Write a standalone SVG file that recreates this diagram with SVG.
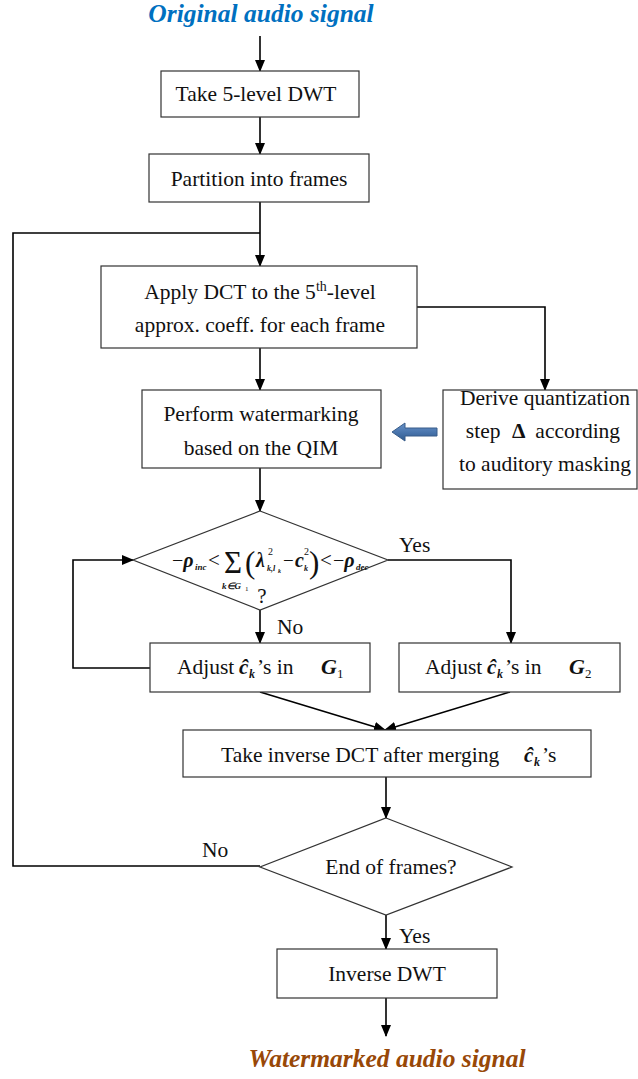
<svg xmlns="http://www.w3.org/2000/svg" width="638" height="1079" viewBox="0 0 638 1079">
<defs>
<marker id="ah" markerWidth="12" markerHeight="10" refX="11" refY="5" orient="auto" markerUnits="userSpaceOnUse">
<path d="M0,0 L12,5 L0,10 Z" fill="#000"/>
</marker>
<linearGradient id="bg" x1="0" y1="0" x2="0" y2="1">
<stop offset="0" stop-color="#6A93C8"/>
<stop offset="0.5" stop-color="#4A76AE"/>
<stop offset="1" stop-color="#2F5A8E"/>
</linearGradient>
</defs>
<style>
.box{fill:#fff;stroke:#333;stroke-width:1.2}
.t{font-family:"Liberation Serif","Times New Roman",serif;font-size:21.5px;fill:#111}
.m{font-family:"Liberation Serif","Times New Roman",serif;fill:#111}
.bi{font-weight:bold;font-style:italic}
.c{stroke:#000;stroke-width:1.6;fill:none}
.ca{stroke:#000;stroke-width:1.6;fill:none;marker-end:url(#ah)}
.ttl{font-family:"Liberation Serif","Times New Roman",serif;font-size:25.5px;font-weight:bold;font-style:italic}
</style>
<rect width="638" height="1079" fill="#fff"/>

<text class="ttl" x="261" y="22" text-anchor="middle" fill="#0070C0">Original audio signal</text>
<text class="ttl" x="387" y="1067" text-anchor="middle" fill="#984807">Watermarked audio signal</text>

<g id="connectors">
<line class="ca" x1="260" y1="36" x2="260" y2="71"/>
<line class="ca" x1="260" y1="117" x2="260" y2="154"/>
<line class="c" x1="260" y1="202" x2="260" y2="233"/>
<line class="ca" x1="260" y1="233" x2="260" y2="266"/>
<polyline class="c" points="260,866 13,866 13,233 260,233"/>
<polyline class="ca" points="417,307 545,307 545,390"/>
<line class="ca" x1="260" y1="348" x2="260" y2="390"/>
<line class="ca" x1="260" y1="468" x2="260" y2="511"/>
<polyline class="ca" points="388,560 511,560 511,643"/>
<line class="ca" x1="260" y1="610" x2="260" y2="643"/>
<polyline class="ca" points="150,668 73,668 73,560 133,560"/>
<line class="ca" x1="260" y1="692" x2="385" y2="730"/>
<line class="ca" x1="510" y1="692" x2="385" y2="730"/>
<line class="ca" x1="386" y1="777" x2="386" y2="818"/>
<line class="ca" x1="386" y1="915" x2="386" y2="949"/>
<line class="ca" x1="386" y1="998" x2="386" y2="1036"/>
<polygon points="392,432 405,423 405,428 437,428 437,436 405,436 405,441" fill="url(#bg)" stroke="#385D8A" stroke-width="1"/>
<text class="t" x="399" y="552">Yes</text>
<text class="t" x="277" y="634">No</text>
<text class="t" x="202" y="857">No</text>
<text class="t" x="399" y="943">Yes</text>
</g>

<g id="n1">
<rect class="box" x="161" y="71" width="198" height="46"/>
<text class="t" x="256" y="101" text-anchor="middle">Take 5-level DWT</text>
</g>
<g id="n2">
<rect class="box" x="149" y="154" width="220" height="48"/>
<text class="t" x="259" y="186" text-anchor="middle">Partition into frames</text>
</g>
<g id="n3">
<rect class="box" x="101" y="266" width="316" height="82"/>
<text class="t" x="260" y="299" text-anchor="middle">Apply DCT to the 5<tspan font-size="14" dy="-8">th</tspan><tspan dy="8">-level</tspan></text>
<text class="t" x="260" y="332" text-anchor="middle">approx. coeff. for each frame</text>
</g>
<g id="n4">
<rect class="box" x="142" y="390" width="239" height="78"/>
<text class="t" x="261" y="421" text-anchor="middle">Perform watermarking</text>
<text class="t" x="261" y="455" text-anchor="middle">based on the QIM</text>
</g>
<g id="n5">
<rect class="box" x="443" y="390" width="194" height="99"/>
<text class="t" x="545" y="405" text-anchor="middle">Derive quantization</text>
<text class="t" x="543" y="438" text-anchor="middle">step <tspan font-weight="bold" dx="6">Δ</tspan><tspan dx="10">according</tspan></text>
<text class="t" x="545" y="471" text-anchor="middle">to auditory masking</text>
</g>
<g id="n6">
<polygon class="box" points="260,511 388,560 260,610 133,560"/>
<text class="m" x="172" y="567" font-size="20">−<tspan class="bi">ρ</tspan></text>
<text class="m bi" x="195" y="570" font-size="9">inc</text>
<text class="m" x="208" y="567" font-size="21">&lt;</text>
<text class="m" x="224" y="573" font-size="31">Σ</text>
<text class="m bi" x="222" y="589" font-size="9">k∈G</text>
<text class="m" x="245" y="591" font-size="7">1</text>
<text class="m" x="245" y="573" font-size="31">(</text>
<text class="m bi" x="256" y="567" font-size="20">λ</text>
<text class="m" x="268" y="555" font-size="10">2</text>
<text class="m bi" x="267" y="571" font-size="8">k,l</text>
<text class="m bi" x="278" y="573" font-size="6">k</text>
<text class="m" x="283" y="567" font-size="19">−</text>
<text class="m bi" x="295" y="567" font-size="20">c</text>
<text class="m" x="304" y="555" font-size="10">2</text>
<text class="m bi" x="304" y="571" font-size="8">k</text>
<text class="m" x="309" y="573" font-size="31">)</text>
<text class="m" x="320" y="567" font-size="21">&lt;</text>
<text class="m" x="333" y="567" font-size="20">−<tspan class="bi">ρ</tspan></text>
<text class="m bi" x="356" y="570" font-size="9">dec</text>
<text class="m" x="262" y="603" font-size="21" text-anchor="middle">?</text>
</g>
<g id="n7">
<rect class="box" x="150" y="643" width="220" height="49"/>
<text class="t" x="177" y="674">Adjust</text>
<text class="m bi" x="239" y="674" font-size="21">ĉ</text>
<text class="m bi" x="249" y="678" font-size="12">k</text>
<text class="t" x="257" y="674">’s in</text>
<text class="m bi" x="321" y="674" font-size="22">G</text>
<text class="m" x="337" y="678" font-size="13">1</text>
</g>
<g id="n8">
<rect class="box" x="399" y="643" width="221" height="49"/>
<text class="t" x="425" y="674">Adjust</text>
<text class="m bi" x="487" y="674" font-size="21">ĉ</text>
<text class="m bi" x="497" y="678" font-size="12">k</text>
<text class="t" x="505" y="674">’s in</text>
<text class="m bi" x="569" y="674" font-size="22">G</text>
<text class="m" x="585" y="678" font-size="13">2</text>
</g>
<g id="n9">
<rect class="box" x="183" y="730" width="408" height="47"/>
<text class="t" x="221" y="762">Take inverse DCT after merging</text>
<text class="m bi" x="524" y="762" font-size="21">ĉ</text>
<text class="m bi" x="534" y="766" font-size="12">k</text>
<text class="t" x="542" y="762">’s</text>
</g>
<g id="n10">
<polygon class="box" points="386,818 512,867 386,915 260,867"/>
<text class="t" x="391" y="874" text-anchor="middle">End of frames?</text>
</g>
<g id="n11">
<rect class="box" x="277" y="949" width="220" height="49"/>
<text class="t" x="387" y="981" text-anchor="middle">Inverse DWT</text>
</g>
</svg>
